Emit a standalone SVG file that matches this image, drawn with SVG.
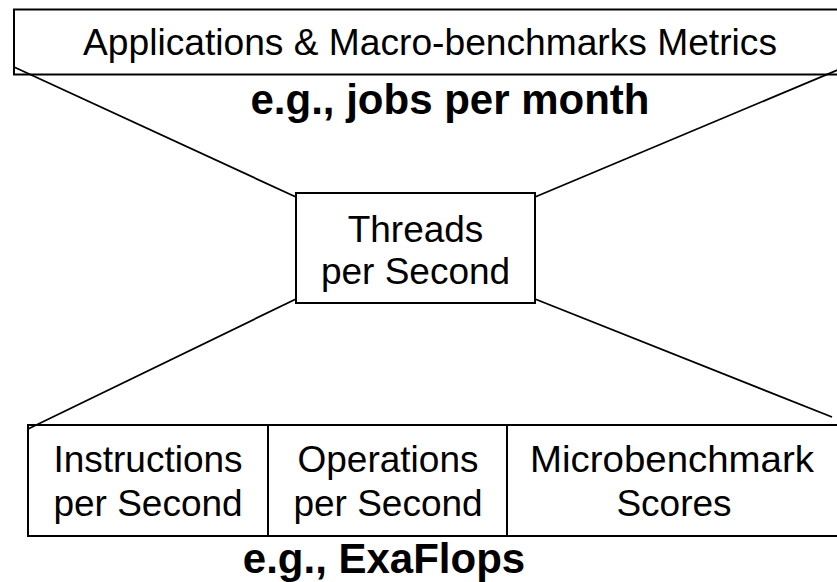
<svg xmlns="http://www.w3.org/2000/svg" width="837" height="582" viewBox="0 0 837 582">
<style>
.box{fill:#fff;stroke:#000;stroke-width:2}
.open{fill:none;stroke:#000;stroke-width:2}
.ln{stroke:#000;stroke-width:1.8;fill:none}
.dv{stroke:#000;stroke-width:2;fill:none}
.t{font-family:"Liberation Sans",Arial,sans-serif;font-size:37px;fill:#000;text-anchor:middle}
.b{font-family:"Liberation Sans",Arial,sans-serif;font-size:42px;font-weight:bold;fill:#000;text-anchor:middle}
</style>
<rect width="837" height="582" fill="#fff"/>
<g id="connectors">
<line class="ln" x1="14" y1="67" x2="296" y2="197"/>
<line class="ln" x1="840" y1="69" x2="535" y2="197"/>
<line class="ln" x1="296" y1="299" x2="28" y2="429"/>
<line class="ln" x1="535" y1="299" x2="832" y2="417"/>
</g>
<g id="top">
<rect class="open" x="14" y="9.5" width="830" height="65"/>
<text class="t" x="430" y="55" textLength="694" lengthAdjust="spacingAndGlyphs">Applications &amp; Macro-benchmarks Metrics</text>
</g>
<g id="top-example">
<text class="b" x="450" y="114">e.g., jobs per month</text>
</g>
<g id="threads">
<rect class="box" x="296" y="193" width="239" height="110"/>
<text class="t" x="415.5" y="242">Threads</text>
<text class="t" x="415.5" y="284">per Second</text>
</g>
<g id="bottom">
<rect class="open" x="28" y="425" width="815" height="111"/>
<line class="dv" x1="268" y1="425" x2="268" y2="536"/>
<line class="dv" x1="507" y1="425" x2="507" y2="536"/>
</g>
<g id="instructions">
<text class="t" x="148" y="472">Instructions</text>
<text class="t" x="148" y="516">per Second</text>
</g>
<g id="operations">
<text class="t" x="388" y="472">Operations</text>
<text class="t" x="388" y="516">per Second</text>
</g>
<g id="micro">
<text class="t" x="672" y="472" textLength="284" lengthAdjust="spacingAndGlyphs">Microbenchmark</text>
<text class="t" x="674" y="516">Scores</text>
</g>
<g id="bottom-example">
<text class="b" x="384" y="573">e.g., ExaFlops</text>
</g>
</svg>
